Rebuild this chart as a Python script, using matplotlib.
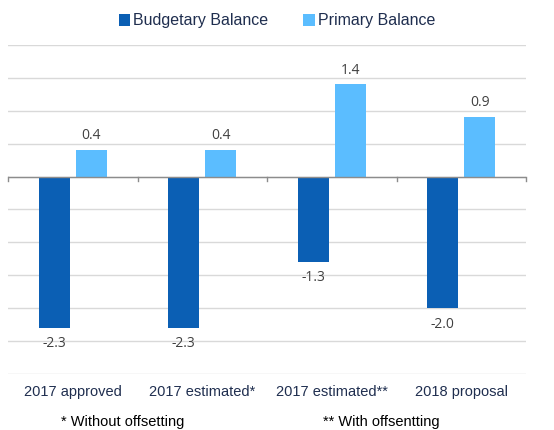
import matplotlib.pyplot as plt
import numpy as np

categories = ["2017 approved", "2017 estimated*", "2017 estimated**", "2018 proposal"]
budgetary = [-2.3, -2.3, -1.3, -2.0]
primary = [0.4, 0.4, 1.4, 0.9]
footnotes = ["* Without offsetting", "** With offsentting"]

dark_blue = "#0B5FB4"
light_blue = "#5BBDFF"
text_col = "#1F2E4F"
label_col = "#404040"

plt.rcParams['font.family'] = ['Liberation Sans', 'DejaVu Sans']

fig = plt.figure(figsize=(5.54, 4.3), dpi=100)
ax = fig.add_axes([8 / 554, 1 - 374 / 430, 518 / 554, 329 / 430])

x = np.arange(len(categories))
w = 0.24
off = 0.142
b1 = ax.bar(x - off, budgetary, w, color=dark_blue, zorder=3, label="Budgetary Balance")
b2 = ax.bar(x + off, primary, w, color=light_blue, zorder=3, label="Primary Balance")

for xi, v in zip(x - off, budgetary):
    ax.annotate(f"{v:.1f}", (xi, v), xytext=(0, -6), textcoords="offset points",
                ha="center", va="top", fontsize=10, color=label_col, family=['Open Sans', 'DejaVu Sans'])
for xi, v in zip(x + off, primary):
    ax.annotate(f"{v:.1f}", (xi, v), xytext=(0, 5), textcoords="offset points",
                ha="center", va="bottom", fontsize=10, color=label_col, family=['Open Sans', 'DejaVu Sans'])

ax.set_xlim(-0.5, len(categories) - 0.5)
ax.set_ylim(-3.0, 2.0)
ax.set_yticks(np.arange(-3.0, 2.01, 0.5))
ax.yaxis.grid(True, color="#D9D9D9", linewidth=1, zorder=0)
ax.tick_params(axis="y", length=0, labelleft=False)
for s in ["top", "right", "left", "bottom"]:
    ax.spines[s].set_visible(False)

ax.axhline(0, color="#8C8C8C", linewidth=1, zorder=4)
ax.set_xticks([])
for b in np.arange(-0.5, len(categories), 1.0):
    ax.plot([b, b], [0, -0.07], color="#8C8C8C", linewidth=1, zorder=4, clip_on=False)

for xi, c in zip(x, categories):
    fig.text((8 + (xi + 0.5) * 129.5) / 554, 1 - 392 / 430, c, ha="center", va="center",
             fontsize=10.5, color=text_col)

fig.text(123 / 554, 1 - 422 / 430, footnotes[0], ha="center", va="center", fontsize=10.5, color="black")
fig.text(381 / 554, 1 - 422 / 430, footnotes[1], ha="center", va="center", fontsize=10.5, color="black")

fig.legend(handles=[b1, b2], loc="center", bbox_to_anchor=(0.5, 1 - 21 / 430), ncol=2,
           frameon=False, fontsize=11.5, handlelength=0.7, handleheight=0.7, handletextpad=0.2,
           columnspacing=2.2, labelcolor=text_col)

fig.savefig("out.png", dpi=100)
